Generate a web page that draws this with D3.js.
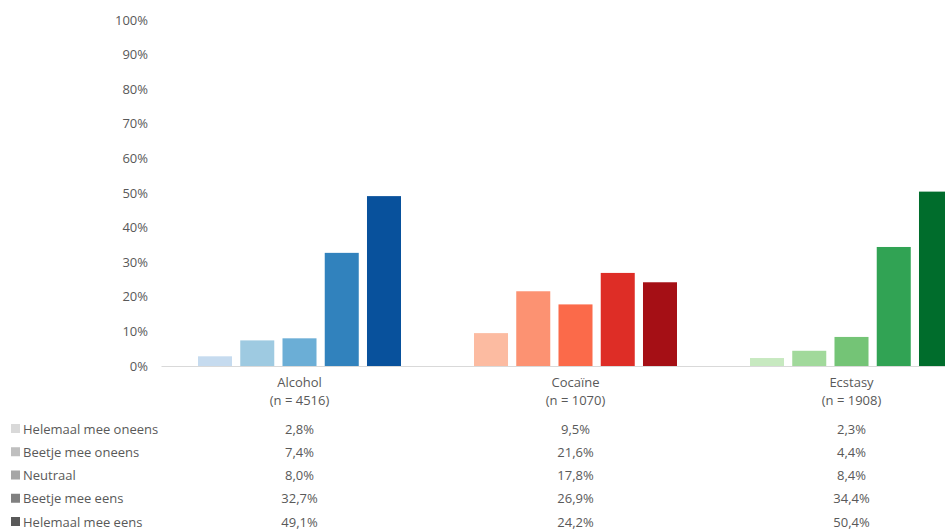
<!DOCTYPE html>
<html>
<head>
<meta charset="utf-8">
<script src="https://cdn.jsdelivr.net/npm/d3@7"></script>
<style>
  html, body { margin: 0; padding: 0; background: #fff; }
  svg { display: block; }
  text { font-family: "Open Sans", "Noto Sans", sans-serif; fill: #595959; }
</style>
</head>
<body>
<svg id="chart" width="945" height="530"></svg>
<script>
// Drug categories with sample sizes
const categories = ["Alcohol", "Cocaïne", "Ecstasy"];
const sampleSizes = [4516, 1070, 1908];

// Answer options (series)
const seriesNames = [
  "Helemaal mee oneens",
  "Beetje mee oneens",
  "Neutraal",
  "Beetje mee eens",
  "Helemaal mee eens"
];

// Percentages per series, one value per category
const helemaalOneens = [2.8, 9.5, 2.3];
const beetjeOneens   = [7.4, 21.6, 4.4];
const neutraal       = [8.0, 17.8, 8.4];
const beetjeEens     = [32.7, 26.9, 34.4];
const helemaalEens   = [49.1, 24.2, 50.4];
const seriesValues = [helemaalOneens, beetjeOneens, neutraal, beetjeEens, helemaalEens];

const yTicks = [0, 10, 20, 30, 40, 50, 60, 70, 80, 90, 100];

// Colour ramps per category, light to dark
const palettes = [
  ["#c6dbef", "#9ecae1", "#6baed6", "#3182bd", "#08519c"],
  ["#fcbba1", "#fc9272", "#fb6a4a", "#de2d26", "#a50f15"],
  ["#c7e9c0", "#a1d99b", "#74c476", "#31a354", "#006d2c"]
];
const legendGreys = ["#d9d9d9", "#bfbfbf", "#a6a6a6", "#808080", "#595959"];

const svg = d3.select("#chart");

const plotLeft = 161.5, plotRight = 989.5;
const x0 = d3.scaleBand().domain(categories).range([plotLeft, plotRight]).paddingInner(0).paddingOuter(0);
const x1 = d3.scaleBand().domain(seriesNames).range([0, x0.bandwidth()])
  .paddingOuter(0.864).paddingInner(0.195);
const y = d3.scaleLinear().domain([0, 100]).range([366, 20]);

// Y axis labels
const yAxis = d3.axisLeft(y).tickValues(yTicks).tickFormat(d => d + "%").tickSize(0).tickPadding(0);
const yg = svg.append("g").attr("transform", "translate(148,0)").call(yAxis);
yg.select(".domain").remove();
yg.selectAll("text").style("font-size", "13px").attr("fill", "#595959")
  .style("font-family", "\"Open Sans\", sans-serif");

// Bars
categories.forEach((cat, ci) => {
  const g = svg.append("g").attr("transform", `translate(${x0(cat)},0)`);
  g.selectAll("rect")
    .data(seriesNames.map((s, si) => ({ s, si, v: seriesValues[si][ci] })))
    .join("rect")
    .attr("x", d => x1(d.s))
    .attr("width", x1.bandwidth())
    .attr("y", d => y(d.v))
    .attr("height", d => y(0) - y(d.v))
    .attr("fill", d => palettes[ci][d.si]);
});

// Baseline
svg.append("line")
  .attr("x1", plotLeft).attr("x2", plotRight)
  .attr("y1", y(0) + 0.5).attr("y2", y(0) + 0.5)
  .attr("stroke", "#d9d9d9").attr("stroke-width", 1);

// Category labels
const xAxis = d3.axisBottom(x0).tickSize(0).tickPadding(0).tickFormat("");
const xg = svg.append("g").attr("transform", `translate(0,${y(0)})`).call(xAxis);
xg.select(".domain").remove();
xg.selectAll(".tick").each(function(d, i) {
  const t = d3.select(this);
  t.append("text").attr("y", 21).attr("text-anchor", "middle")
    .style("font-size", "13px").text(d);
  t.append("text").attr("y", 39).attr("text-anchor", "middle")
    .style("font-size", "13px").text(`(n = ${sampleSizes[i]})`);
});

// Data table with legend keys
const rowY = d3.scalePoint().domain(seriesNames).range([429, 522]);
seriesNames.forEach((s, si) => {
  const yy = rowY(s);
  svg.append("rect").attr("x", 11).attr("y", yy - 5).attr("width", 9).attr("height", 9)
    .attr("fill", legendGreys[si]);
  svg.append("text").attr("x", 23).attr("y", yy).attr("dy", "0.35em")
    .style("font-size", "13px").text(s);
  categories.forEach((cat, ci) => {
    svg.append("text")
      .attr("x", x0(cat) + x0.bandwidth() / 2)
      .attr("y", yy).attr("dy", "0.35em")
      .attr("text-anchor", "middle")
      .style("font-size", "13px")
      .text(seriesValues[si][ci].toFixed(1).replace(".", ",") + "%");
  });
});
</script>
</body>
</html>
